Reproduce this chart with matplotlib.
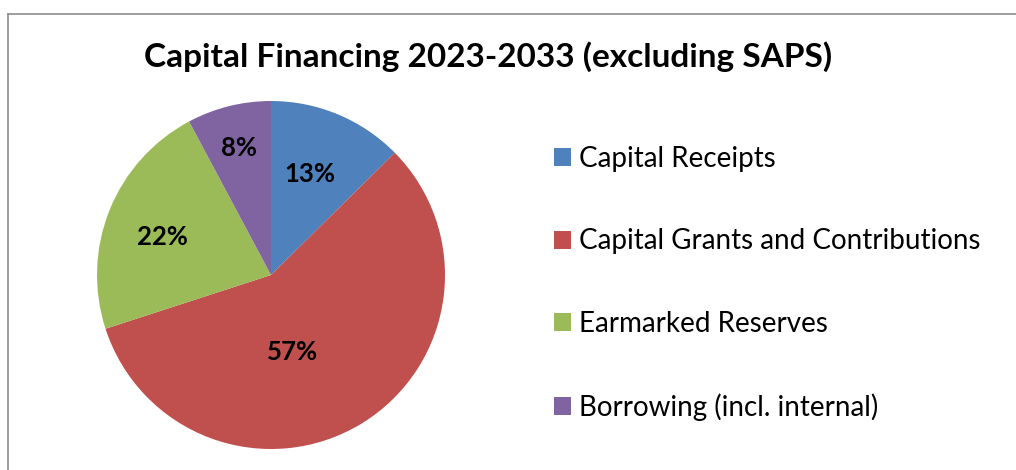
import matplotlib.pyplot as plt
import numpy as np
from matplotlib.lines import Line2D

# data (percent of capital financing)
categories = ["Capital Receipts", "Capital Grants and Contributions",
              "Earmarked Reserves", "Borrowing (incl. internal)"]
shares = [12.6, 57.4, 22.2, 7.8]
colors = ["#4F81BD", "#C0504D", "#9BBB59", "#8064A2"]

# label placement (Excel "best fit" look): radial distance and angle shift per slice
lbl_dist = [0.62, 0.46, 0.66, 0.75]
lbl_shift = [1.4, -16.0, 2.6, 0.0]

W, H = 1016, 470
fig = plt.figure(figsize=(W / 100, H / 100), dpi=100)

# chart area border (left and top edges visible)
fig.add_artist(Line2D([8 / W, 8 / W], [0, 1 - 14 / H], color="#8c8c8c", lw=1.2))
fig.add_artist(Line2D([8 / W, 1], [1 - 14 / H, 1 - 14 / H], color="#8c8c8c", lw=1.2))

# pie: center (271, 275), radius 174 px
cx, cy, r = 271, 275, 174
ax = fig.add_axes([(cx - r) / W, (H - cy - r) / H, 2 * r / W, 2 * r / H])
wedges, _ = ax.pie(shares, colors=colors, startangle=90, counterclock=False,
                   radius=1.0, wedgeprops=dict(linewidth=0))
ax.set_xlim(-1, 1)
ax.set_ylim(-1, 1)
ax.axis("off")

for w, s, d, sh in zip(wedges, shares, lbl_dist, lbl_shift):
    mid = np.deg2rad((w.theta1 + w.theta2) / 2 + sh)
    ax.text(d * np.cos(mid), d * np.sin(mid), f"{s:.0f}%", ha="center", va="center",
            fontsize=18.5, fontweight="bold", family="Lato", color="black")

fig.text(488 / W, 1 - 57 / H, "Capital Financing 2023-2033 (excluding SAPS)",
         ha="center", va="center", fontsize=24, fontweight="bold", family="Lato")

leg = fig.legend(wedges, categories, loc="upper left",
                 bbox_to_anchor=(554 / W, 1 - 146 / H), frameon=False,
                 prop=dict(family="Lato", size=20),
                 borderaxespad=0, borderpad=0,
                 handlelength=0.61, handleheight=0.61, handletextpad=0.29,
                 labelspacing=2.03)

fig.savefig("out.png", dpi=100)
